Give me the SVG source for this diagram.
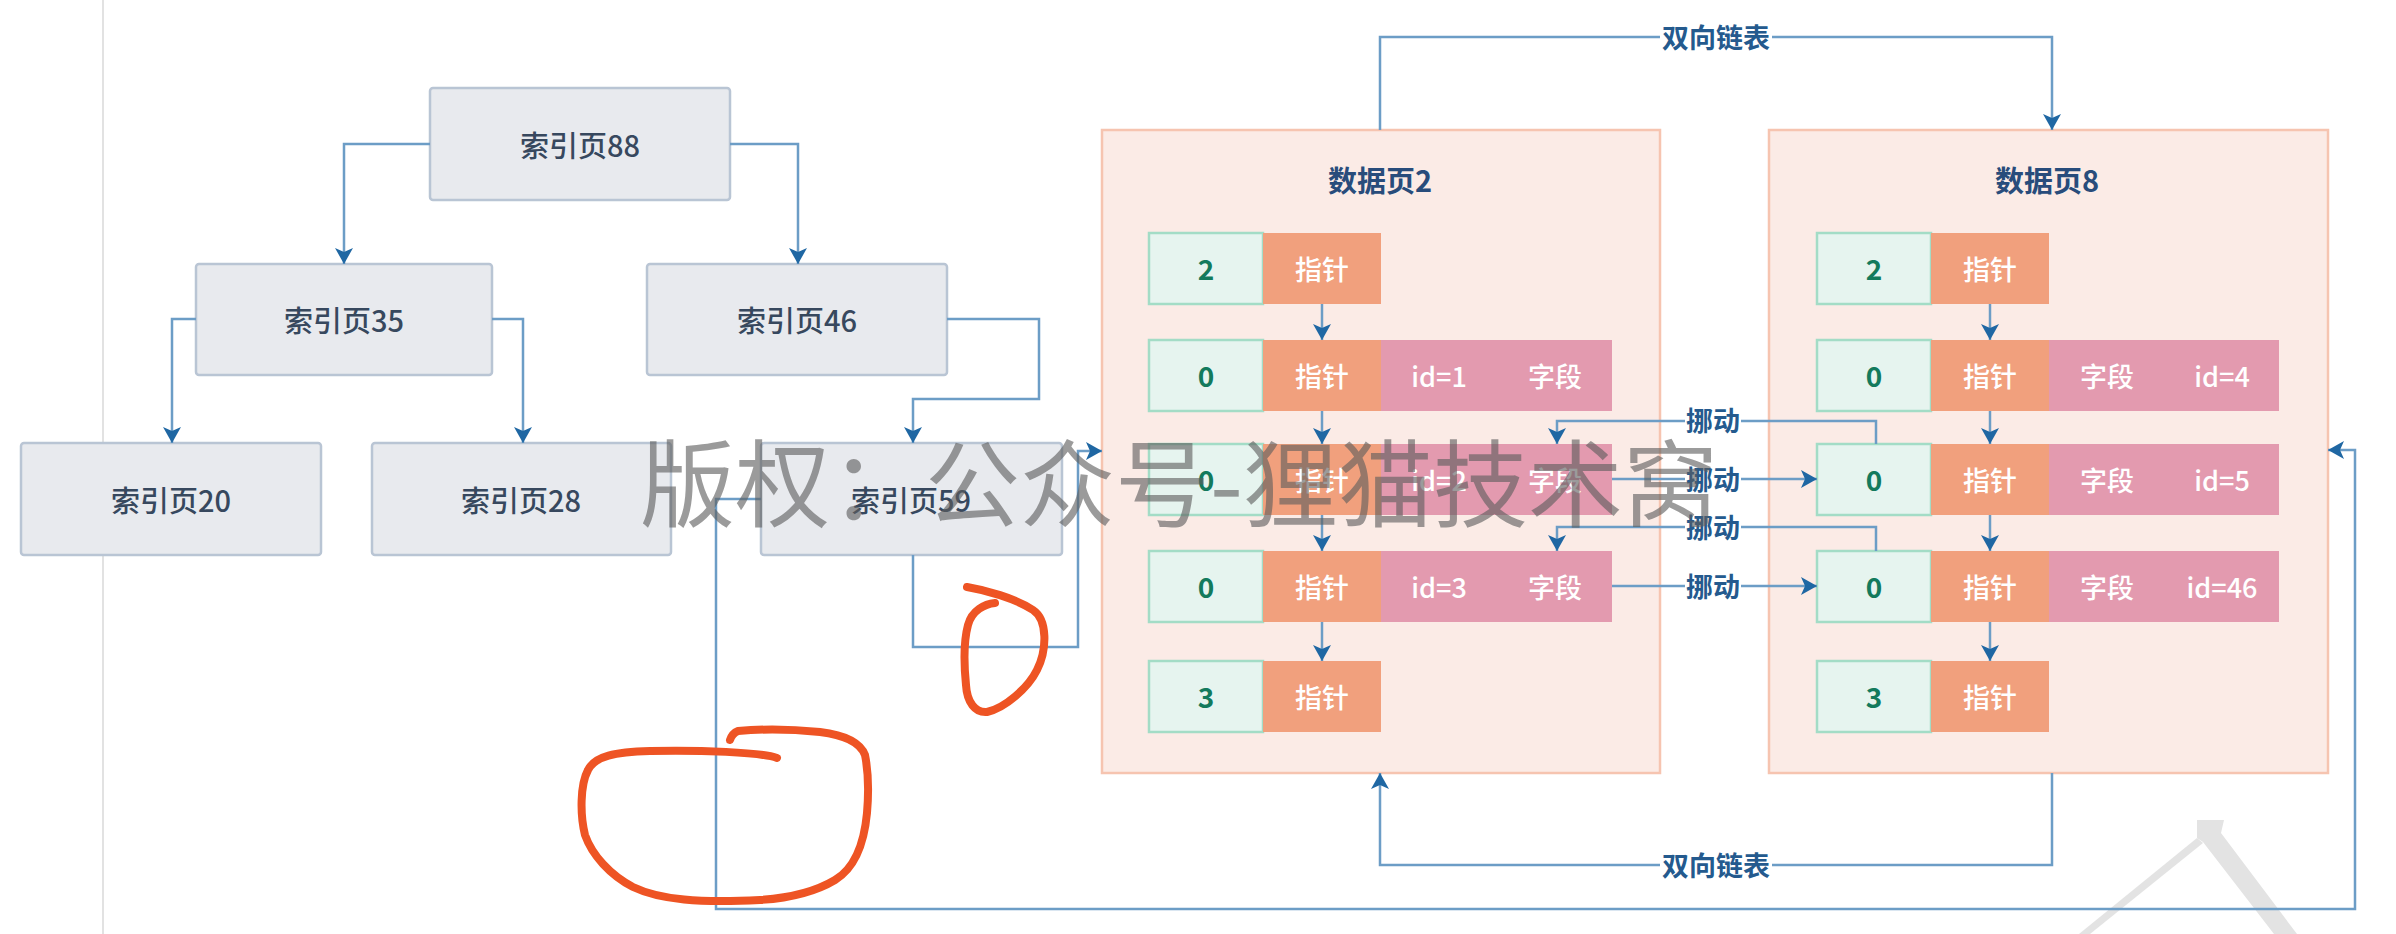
<svg xmlns="http://www.w3.org/2000/svg" width="2396" height="934" viewBox="0 0 2396 934">
<defs>
<marker id="ah" markerWidth="18" markerHeight="18" viewBox="0 0 18 18" refX="16" refY="9" orient="auto" markerUnits="userSpaceOnUse">
<path d="M0,0 L16,9 L0,18 L4,9 Z" fill="#1f67a3"/>
</marker>
<style>
text{font-family:"Noto Sans CJK SC","Noto Sans",sans-serif;text-anchor:middle;dominant-baseline:central}
.ibox{fill:#e8eaee;stroke:#b9c5d4;stroke-width:2.5}
.idx{font-size:29px;fill:#37485e;font-weight:500}
.page{fill:#fbebe6;stroke:#f6c4b0;stroke-width:2.5}
.ttl{font-size:29px;fill:#284c7b;font-weight:700}
.g{fill:#e6f4ef;stroke:#a3dcc6;stroke-width:2.5}
.o{fill:#f1a07d}
.p{fill:#e39aaf}
.num{font-size:28px;fill:#137a5c;font-weight:700}
.w{font-size:27px;fill:#ffffff;font-weight:500}
.ln{fill:none;stroke:#6c9dc6;stroke-width:2.5}
.arr{marker-end:url(#ah)}
.lbl{font-size:27px;fill:#245a8e;font-weight:700}
.lb{fill:#ffffff}
.red{fill:none;stroke:#ee5424;stroke-width:8;stroke-linecap:round;stroke-linejoin:round}
</style>
</defs>
<rect width="2396" height="934" fill="#ffffff"/>
<line x1="103" y1="0" x2="103" y2="934" stroke="#d9d9d9" stroke-width="1.5"/>

<g id="wm-a" fill="#e3e3e3">
<polygon points="2197,820 2224,820 2221,833 2297,934 2274,934 2203,842 2197,838"/>
<polygon points="2197,838 2203,843 2090,934 2079,934"/>
</g>

<g id="page2">
<rect class="page" x="1102" y="130" width="558" height="643"/>
<text class="ttl" x="1380" y="179">数据页2</text>
</g>
<g id="page8">
<rect class="page" x="1769" y="130" width="559" height="643"/>
<text class="ttl" x="2047" y="179">数据页8</text>
</g>

<g id="idx88"><rect class="ibox" x="430" y="88" width="300" height="112" rx="3"/><text class="idx" x="580" y="144">索引页88</text></g>
<g id="idx35"><rect class="ibox" x="196" y="264" width="296" height="111" rx="3"/><text class="idx" x="344" y="319">索引页35</text></g>
<g id="idx46"><rect class="ibox" x="647" y="264" width="300" height="111" rx="3"/><text class="idx" x="797" y="319">索引页46</text></g>
<g id="idx20"><rect class="ibox" x="21" y="443" width="300" height="112" rx="3"/><text class="idx" x="171" y="499">索引页20</text></g>
<g id="idx28"><rect class="ibox" x="372" y="443" width="299" height="112" rx="3"/><text class="idx" x="521" y="499">索引页28</text></g>
<g id="idx59"><rect class="ibox" x="761" y="443" width="301" height="112" rx="3"/><text class="idx" x="911" y="499">索引页59</text></g>

<g id="p2r1"><rect class="g" x="1149" y="233" width="114" height="71"/><rect class="o" x="1263" y="233" width="118" height="71"/><text class="num" x="1206" y="268">2</text><text class="w" x="1322" y="268">指针</text></g>
<g id="p2r2"><rect class="g" x="1149" y="340" width="114" height="71"/><rect class="o" x="1263" y="340" width="118" height="71"/><rect class="p" x="1381" y="340" width="231" height="71"/><text class="num" x="1206" y="375">0</text><text class="w" x="1322" y="375">指针</text><text class="w" x="1439" y="375">id=1</text><text class="w" x="1555" y="375">字段</text></g>
<g id="p2r3"><rect class="g" x="1149" y="444" width="114" height="71"/><rect class="o" x="1263" y="444" width="118" height="71"/><rect class="p" x="1381" y="444" width="231" height="71"/><text class="num" x="1206" y="479">0</text><text class="w" x="1322" y="479">指针</text><text class="w" x="1439" y="479">id=2</text><text class="w" x="1555" y="479">字段</text></g>
<g id="p2r4"><rect class="g" x="1149" y="551" width="114" height="71"/><rect class="o" x="1263" y="551" width="118" height="71"/><rect class="p" x="1381" y="551" width="231" height="71"/><text class="num" x="1206" y="586">0</text><text class="w" x="1322" y="586">指针</text><text class="w" x="1439" y="586">id=3</text><text class="w" x="1555" y="586">字段</text></g>
<g id="p2r5"><rect class="g" x="1149" y="661" width="114" height="71"/><rect class="o" x="1263" y="661" width="118" height="71"/><text class="num" x="1206" y="696">3</text><text class="w" x="1322" y="696">指针</text></g>

<g id="p8r1"><rect class="g" x="1817" y="233" width="114" height="71"/><rect class="o" x="1931" y="233" width="118" height="71"/><text class="num" x="1874" y="268">2</text><text class="w" x="1990" y="268">指针</text></g>
<g id="p8r2"><rect class="g" x="1817" y="340" width="114" height="71"/><rect class="o" x="1931" y="340" width="118" height="71"/><rect class="p" x="2049" y="340" width="230" height="71"/><text class="num" x="1874" y="375">0</text><text class="w" x="1990" y="375">指针</text><text class="w" x="2107" y="375">字段</text><text class="w" x="2222" y="375">id=4</text></g>
<g id="p8r3"><rect class="g" x="1817" y="444" width="114" height="71"/><rect class="o" x="1931" y="444" width="118" height="71"/><rect class="p" x="2049" y="444" width="230" height="71"/><text class="num" x="1874" y="479">0</text><text class="w" x="1990" y="479">指针</text><text class="w" x="2107" y="479">字段</text><text class="w" x="2222" y="479">id=5</text></g>
<g id="p8r4"><rect class="g" x="1817" y="551" width="114" height="71"/><rect class="o" x="1931" y="551" width="118" height="71"/><rect class="p" x="2049" y="551" width="230" height="71"/><text class="num" x="1874" y="586">0</text><text class="w" x="1990" y="586">指针</text><text class="w" x="2107" y="586">字段</text><text class="w" x="2222" y="586">id=46</text></g>
<g id="p8r5"><rect class="g" x="1817" y="661" width="114" height="71"/><rect class="o" x="1931" y="661" width="118" height="71"/><text class="num" x="1874" y="696">3</text><text class="w" x="1990" y="696">指针</text></g>

<g id="connectors">
<path class="ln arr" d="M430,144 H344 V264"/>
<path class="ln arr" d="M730,144 H798 V264"/>
<path class="ln arr" d="M196,319 H172 V443"/>
<path class="ln arr" d="M492,319 H523 V443"/>
<path class="ln arr" d="M947,319 H1039 V399 H913 V443"/>
<path class="ln arr" d="M913,555 V647 H1078 V451 H1102"/>
<path class="ln arr" d="M761,499 H716 V909 H2355 V450 H2328"/>
<path class="ln arr" d="M1322,304 V340"/>
<path class="ln arr" d="M1322,411 V444"/>
<path class="ln arr" d="M1322,515 V551"/>
<path class="ln arr" d="M1322,622 V661"/>
<path class="ln arr" d="M1990,304 V340"/>
<path class="ln arr" d="M1990,411 V444"/>
<path class="ln arr" d="M1990,515 V551"/>
<path class="ln arr" d="M1990,622 V661"/>
<path class="ln arr" d="M1876,444 V421 H1557 V444"/>
<path class="ln arr" d="M1612,479 H1817"/>
<path class="ln arr" d="M1876,551 V527 H1557 V551"/>
<path class="ln arr" d="M1612,586 H1817"/>
<path class="ln arr" d="M1380,130 V37 H2052 V130"/>
<path class="ln arr" d="M2052,773 V865 H1380 V773"/>
<rect class="lb" x="1685" y="405" width="56" height="32"/><text class="lbl" x="1713" y="419">挪动</text>
<rect class="lb" x="1685" y="463" width="56" height="32"/><text class="lbl" x="1713" y="478">挪动</text>
<rect class="lb" x="1685" y="511" width="56" height="32"/><text class="lbl" x="1713" y="526">挪动</text>
<rect class="lb" x="1685" y="570" width="56" height="32"/><text class="lbl" x="1713" y="585">挪动</text>
<rect class="lb" x="1660" y="21" width="112" height="32"/><text class="lbl" x="1716" y="36">双向链表</text>
<rect class="lb" x="1660" y="849" width="112" height="32"/><text class="lbl" x="1716" y="864">双向链表</text>
</g>

<g id="scribbles">
<path class="red" d="M967,587 C985,590 1015,598 1033,610 C1048,620 1047,650 1037,670 C1028,688 1005,708 987,712 C975,713 967,702 966,685 C964,665 964,640 968,625 C972,610 985,604 995,603"/>
<path class="red" d="M777,758 C760,752 700,750 650,751 C615,752 595,756 588,770 C580,785 580,815 585,835 C592,855 610,875 633,887 C660,900 700,903 760,900 C790,898 815,892 835,880 C855,868 864,845 867,813 C869,790 868,770 865,755 C860,742 845,735 820,732 C790,729 760,729 738,731 C733,733 731,737 730,740"/>
</g>

<g id="watermark">
<text x="640" y="520" font-size="95" font-weight="400" fill="#5e5e5e" fill-opacity="0.62" style="text-anchor:start;dominant-baseline:alphabetic">版权：公众号-狸猫技术窝</text>
</g>
</svg>
